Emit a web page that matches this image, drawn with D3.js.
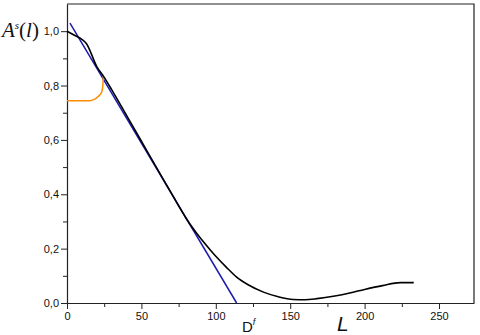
<!DOCTYPE html>
<html>
<head>
<meta charset="utf-8">
<script src="https://cdn.jsdelivr.net/npm/d3@7"></script>
<style>
  body { margin: 0; background: #fff; }
  svg { display: block; }
  .tick text { font-family: Arial, "Liberation Sans", sans-serif; font-size: 11px; fill: #111; }
</style>
</head>
<body>
<div class="chart"></div>
<script>
// black curve A^s(l)
const blackL = [0, 5, 10, 13, 20, 25, 30, 40, 50, 60, 70, 80, 85, 90, 96, 100, 107, 114, 122, 132, 142, 152, 160, 168, 180, 190, 200, 212, 224, 233];
const blackA = [1.0, 0.985, 0.97, 0.955, 0.87, 0.83, 0.785, 0.69, 0.595, 0.5, 0.405, 0.312, 0.272, 0.236, 0.197, 0.172, 0.132, 0.095, 0.066, 0.04, 0.023, 0.013, 0.012, 0.016, 0.026, 0.037, 0.05, 0.064, 0.075, 0.075];

// straight fit (blue)
const blueL = [2, 114];
const blueA = [1.03, 0.0];

// orange curve
const orangeL = [0, 15, 18, 20, 22, 23.3, 24, 24.4];
const orangeA = [0.744, 0.744, 0.748, 0.755, 0.765, 0.776, 0.795, 0.833];

const xTicks = [0, 50, 100, 150, 200, 250];
const xMinor = [25, 75, 125, 175, 225];
const yTicks = [0, 0.2, 0.4, 0.6, 0.8, 1.0];
const yMinor = [0.1, 0.3, 0.5, 0.7, 0.9];

const width = 480, height = 335;
const margin = {top: 4, right: 6, bottom: 32, left: 67};

const svg = d3.select('.chart').append('svg')
    .attr('width', width)
    .attr('height', height);

const x = d3.scaleLinear().domain([0, 273.5]).range([margin.left, width - margin.right]);
const y = d3.scaleLinear().domain([0, 1.1]).range([height - margin.bottom, margin.top]);

const comma = v => d3.format('.1f')(v).replace('.', ',');

// minor ticks first
svg.append('g')
    .attr('transform', `translate(0,${y(0)})`)
    .call(d3.axisBottom(x).tickValues(xMinor).tickSize(4).tickFormat(''))
    .call(g => g.select('.domain').remove());
svg.append('g')
    .attr('transform', `translate(${x(0)},0)`)
    .call(d3.axisLeft(y).tickValues(yMinor).tickSize(4).tickFormat(''))
    .call(g => g.select('.domain').remove());

svg.append('g')
    .attr('transform', `translate(0,${y(0)})`)
    .call(d3.axisBottom(x).tickValues(xTicks).tickSize(6).tickSizeOuter(0).tickPadding(3));
svg.append('g')
    .attr('transform', `translate(${x(0)},0)`)
    .call(d3.axisLeft(y).tickValues(yTicks).tickSize(6).tickSizeOuter(0).tickPadding(2).tickFormat(comma));

svg.selectAll('.domain').attr('stroke', '#222').attr('stroke-width', 1.2);
svg.selectAll('.tick line').attr('stroke', '#222');

// top + right frame
svg.append('path')
    .attr('d', `M${x(0)},${y(1.1)}H${x(273.5)}V${y(0)}`)
    .attr('fill', 'none')
    .attr('stroke', '#222')
    .attr('stroke-width', 1.2);

const line = d3.line()
    .x(d => x(d[0]))
    .y(d => y(d[1]));

svg.append('path')
    .datum(blueL.map((l, i) => [l, blueA[i]]))
    .attr('d', line)
    .attr('fill', 'none')
    .attr('stroke', '#1c1cae')
    .attr('stroke-width', 1.5);

svg.append('path')
    .datum(orangeL.map((l, i) => [l, orangeA[i]]))
    .attr('d', line.curve(d3.curveMonotoneX))
    .attr('fill', 'none')
    .attr('stroke', '#ff8c00')
    .attr('stroke-width', 1.5);

svg.append('path')
    .datum(blackL.map((l, i) => [l, blackA[i]]))
    .attr('d', line.curve(d3.curveMonotoneX))
    .attr('fill', 'none')
    .attr('stroke', '#000')
    .attr('stroke-width', 1.6);

// axis titles
const ylab = svg.append('text')
    .attr('x', 2)
    .attr('y', 37)
    .attr('font-family', '"Times New Roman", "Liberation Serif", serif')
    .attr('font-style', 'italic')
    .attr('font-size', 21)
    .attr('fill', '#111');
ylab.append('tspan').text('A');
ylab.append('tspan').attr('font-size', 11).attr('dy', -8).text('s');
ylab.append('tspan').attr('dy', 8).attr('font-style', 'normal').text('(');
ylab.append('tspan').text('l');
ylab.append('tspan').attr('font-style', 'normal').text(')');

const dlab = svg.append('text')
    .attr('x', 242)
    .attr('y', 332)
    .attr('font-family', 'Arial, "Liberation Sans", sans-serif')
    .attr('font-size', 15)
    .attr('fill', '#111');
dlab.append('tspan').text('D');
dlab.append('tspan').attr('font-size', 9).attr('dy', -7).attr('font-style', 'italic').text('f');

svg.append('text')
    .attr('x', 337)
    .attr('y', 331)
    .attr('font-family', 'Arial, "Liberation Sans", sans-serif')
    .attr('font-style', 'italic')
    .attr('font-size', 21)
    .attr('fill', '#111')
    .text('L');
</script>
</body>
</html>
